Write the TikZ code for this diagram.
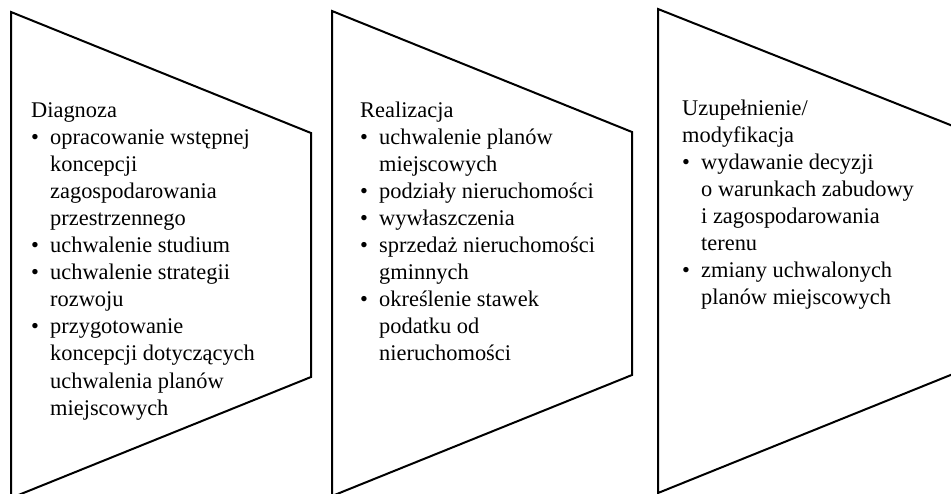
\documentclass[tikz,border=0pt]{standalone}
\usepackage{fontspec}
\setmainfont{Liberation Serif}
\usetikzlibrary{positioning}
\newcommand{\itm}{\makebox[19pt][l]{\textbullet}}
\newcommand{\cnt}{\hspace*{19pt}}

\begin{document}
\begin{tikzpicture}[
  x=1pt, y=-1pt,
  stage/.style={draw, line width=2pt, line join=miter},
  list/.style={inner sep=0pt, anchor=base west, font=\fontsize{22.4}{27.1}\selectfont}
]
  \useasboundingbox (0,0) rectangle (951,493);
  % three stages
  \coordinate (s1) at (11,12);
  \coordinate (s2) at (332,11);
  \coordinate (s3) at (658,9);
  \draw[stage] (s1) -- ++(300,121) -- ++(0,244) -- ++(-300,121) -- cycle;
  \draw[stage] (s2) -- ++(300,121) -- ++(0,243) -- ++(-300,121) -- cycle;
  \draw[stage] (s3) -- ++(300,119) -- ++(0,244) -- ++(-300,121) -- cycle;
  \node[list] (diag) at (31,117) {\parbox[t]{260pt}{Diagnoza\\
    \itm opracowanie wstępnej\\
    \cnt koncepcji\\
    \cnt zagospodarowania\\
    \cnt przestrzennego\\
    \itm uchwalenie studium\\
    \itm uchwalenie strategii\\
    \cnt rozwoju\\
    \itm przygotowanie\\
    \cnt koncepcji dotyczących\\
    \cnt uchwalenia planów\\
    \cnt miejscowych}};
  \node[list] (real) at (360,117) {\parbox[t]{260pt}{Realizacja\\
    \itm uchwalenie planów\\
    \cnt miejscowych\\
    \itm podziały nieruchomości\\
    \itm wywłaszczenia\\
    \itm sprzedaż nieruchomości\\
    \cnt gminnych\\
    \itm określenie stawek\\
    \cnt podatku od\\
    \cnt nieruchomości}};
  \node[list] (uzup) at (682,115) {\parbox[t]{260pt}{Uzupełnienie/\\
    modyfikacja\\
    \itm wydawanie decyzji\\
    \cnt o warunkach zabudowy\\
    \cnt i zagospodarowania\\
    \cnt terenu\\
    \itm zmiany uchwalonych\\
    \cnt planów miejscowych}};
\end{tikzpicture}
\end{document}
